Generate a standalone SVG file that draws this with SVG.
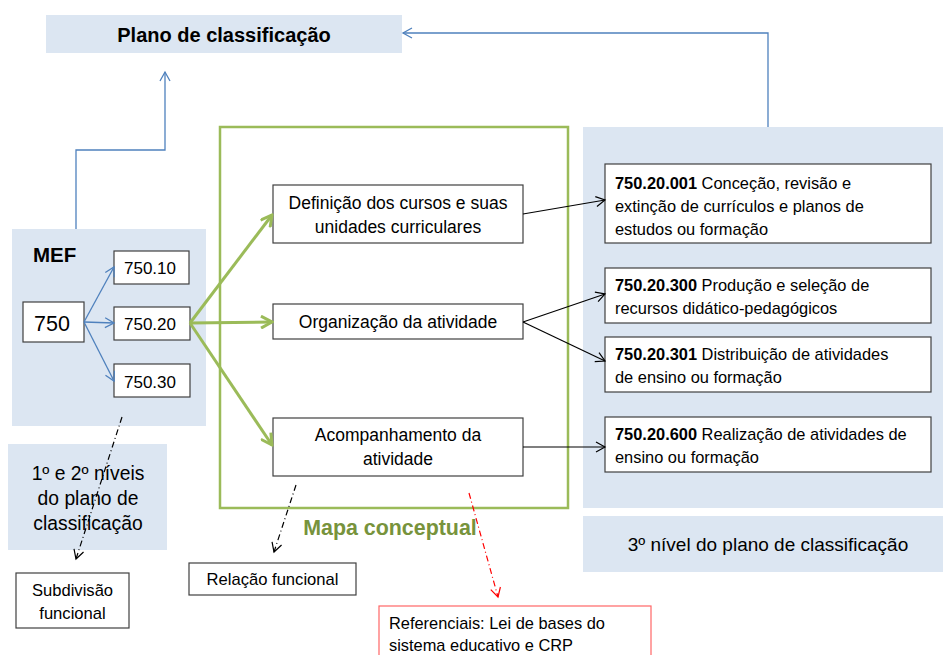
<svg xmlns="http://www.w3.org/2000/svg" width="943" height="655" viewBox="0 0 943 655">
<style>
text{font-family:"Liberation Sans",Arial,sans-serif;fill:#000}
.bg{fill:#dce6f2;stroke:none}
.bx{fill:#fff;stroke:#404040;stroke-width:1.2}
.tm{font-size:17.5px}
.tr{font-size:16.4px}
.ts{font-size:16.6px}
.blue{stroke:#4f81bd;stroke-width:1.3;fill:none}
.blk{stroke:#000;stroke-width:1.2;fill:none}
.grn{stroke:#9bbb59;stroke-width:3;fill:none}
</style>
<defs>
<marker id="ab" markerWidth="12" markerHeight="12" refX="10" refY="6" orient="auto" markerUnits="userSpaceOnUse"><path d="M1,1 L10,6 L1,11" fill="none" stroke="#4f81bd" stroke-width="1.3"/></marker>
<marker id="ak" markerWidth="12" markerHeight="12" refX="10" refY="6" orient="auto" markerUnits="userSpaceOnUse"><path d="M1,1 L10,6 L1,11" fill="none" stroke="#000" stroke-width="1.2"/></marker>
<marker id="ag" markerWidth="14" markerHeight="14" refX="12" refY="7" orient="auto" markerUnits="userSpaceOnUse"><path d="M1,1 L12,7 L1,13" fill="none" stroke="#9bbb59" stroke-width="3"/></marker>
<marker id="ar" markerWidth="12" markerHeight="12" refX="10" refY="6" orient="auto" markerUnits="userSpaceOnUse"><path d="M1,1 L10,6 L1,11" fill="none" stroke="#ff0000" stroke-width="1.2"/></marker>
</defs>

<g id="plano">
<rect class="bg" x="46" y="15" width="356" height="38"/>
<text x="224" y="42" font-size="20" font-weight="bold" text-anchor="middle">Plano de classificação</text>
</g>

<g id="mef">
<rect class="bg" x="12" y="229" width="194" height="197"/>
<text x="33" y="262" font-size="20.5" font-weight="bold">MEF</text>
</g>
<g id="n750"><rect class="bx" x="23" y="302" width="61" height="40"/><text x="52" y="331" font-size="21.5" text-anchor="middle">750</text></g>
<g id="n75010"><rect class="bx" x="114" y="251" width="75" height="33"/><text x="150" y="274" font-size="17" text-anchor="middle">750.10</text></g>
<g id="n75020"><rect class="bx" x="114" y="307" width="76" height="33"/><text x="150" y="330" font-size="17" text-anchor="middle">750.20</text></g>
<g id="n75030"><rect class="bx" x="114" y="364" width="76" height="33"/><text x="150" y="388" font-size="17" text-anchor="middle">750.30</text></g>

<g id="niveis12">
<rect class="bg" x="8" y="444" width="159" height="106"/>
<text font-size="19.3" text-anchor="middle"><tspan x="88" y="480">1º e 2º níveis</tspan><tspan x="88" y="505">do plano de</tspan><tspan x="88" y="530">classificação</tspan></text>
</g>
<g id="subdiv">
<rect class="bx" x="16" y="573" width="113" height="55"/>
<text class="ts" text-anchor="middle"><tspan x="72.5" y="596">Subdivisão</tspan><tspan x="72.5" y="619">funcional</tspan></text>
</g>

<g id="mapa">
<rect x="220" y="127" width="348" height="381" fill="none" stroke="#9bbb59" stroke-width="2.5"/>
<text x="390" y="535" font-size="21.4" font-weight="bold" text-anchor="middle" style="fill:#77933c">Mapa conceptual</text>
</g>
<g id="definicao"><rect class="bx" x="273" y="185" width="250" height="58"/><text class="tm" text-anchor="middle"><tspan x="398" y="209">Definição dos cursos e suas</tspan><tspan x="398" y="233">unidades curriculares</tspan></text></g>
<g id="organizacao"><rect class="bx" x="273" y="304" width="250" height="35"/><text x="398" y="328" class="tm" text-anchor="middle">Organização da atividade</text></g>
<g id="acompanhamento"><rect class="bx" x="273" y="418" width="250" height="58"/><text class="tm" text-anchor="middle"><tspan x="398" y="441">Acompanhamento da</tspan><tspan x="398" y="465">atividade</tspan></text></g>

<g id="nivel3">
<rect class="bg" x="583" y="127" width="360" height="381"/>
<rect class="bg" x="583" y="516" width="360" height="56"/>
<text x="768" y="551" font-size="19" text-anchor="middle">3º nível do plano de classificação</text>
</g>
<g id="c001"><rect class="bx" x="605" y="164" width="326" height="79"/><text class="tr"><tspan x="615" y="189"><tspan font-weight="bold">750.20.001</tspan> Conceção, revisão e</tspan><tspan x="615" y="212">extinção de currículos e planos de</tspan><tspan x="615" y="235">estudos ou formação</tspan></text></g>
<g id="c300"><rect class="bx" x="605" y="268" width="326" height="55"/><text class="tr"><tspan x="615" y="291"><tspan font-weight="bold">750.20.300</tspan> Produção e seleção de</tspan><tspan x="615" y="314">recursos didático-pedagógicos</tspan></text></g>
<g id="c301"><rect class="bx" x="605" y="337" width="326" height="55"/><text class="tr"><tspan x="615" y="360"><tspan font-weight="bold">750.20.301</tspan> Distribuição de atividades</tspan><tspan x="615" y="383">de ensino ou formação</tspan></text></g>
<g id="c600"><rect class="bx" x="605" y="417" width="326" height="55"/><text class="tr"><tspan x="615" y="440"><tspan font-weight="bold">750.20.600</tspan> Realização de atividades de</tspan><tspan x="615" y="463">ensino ou formação</tspan></text></g>

<g id="relacao"><rect class="bx" x="189" y="563" width="167" height="32"/><text x="272.5" y="585" class="ts" text-anchor="middle">Relação funcional</text></g>
<g id="referenciais"><rect x="379" y="606" width="272" height="60" fill="#fff" stroke="#ff6666" stroke-width="1.2"/><text class="tr"><tspan x="389" y="629">Referenciais: Lei de bases do</tspan><tspan x="389" y="651">sistema educativo e CRP</tspan></text></g>

<g id="connectors">
<path class="blue" d="M76,229 V150 H165 V72" marker-end="url(#ab)"/>
<path class="blue" d="M768,127 V33 H403" marker-end="url(#ab)"/>
<path class="blue" d="M84,322 L114,267" marker-end="url(#ab)"/>
<path class="blue" d="M84,322 L114,323" marker-end="url(#ab)"/>
<path class="blue" d="M84,322 L114,381" marker-end="url(#ab)"/>
<path class="grn" d="M190,323 L272,215" marker-end="url(#ag)"/>
<path class="grn" d="M190,323 L272,322" marker-end="url(#ag)"/>
<path class="grn" d="M190,323 L272,445" marker-end="url(#ag)"/>
<path class="blk" d="M523,214 L605,200" marker-end="url(#ak)"/>
<path class="blk" d="M523,322 L605,294" marker-end="url(#ak)"/>
<path class="blk" d="M523,322 L605,361" marker-end="url(#ak)"/>
<path class="blk" d="M523,447 L605,447" marker-end="url(#ak)"/>
<path class="blk" d="M122,417 L76,559" stroke-dasharray="6,3,1,3" marker-end="url(#ak)"/>
<path class="blk" d="M296,485 L274,552" stroke-dasharray="6,3,1,3" marker-end="url(#ak)"/>
<path d="M469,493 L498,597" fill="none" stroke="#ff0000" stroke-width="1.2" stroke-dasharray="6,3,1,3" marker-end="url(#ar)"/>
</g>
</svg>
